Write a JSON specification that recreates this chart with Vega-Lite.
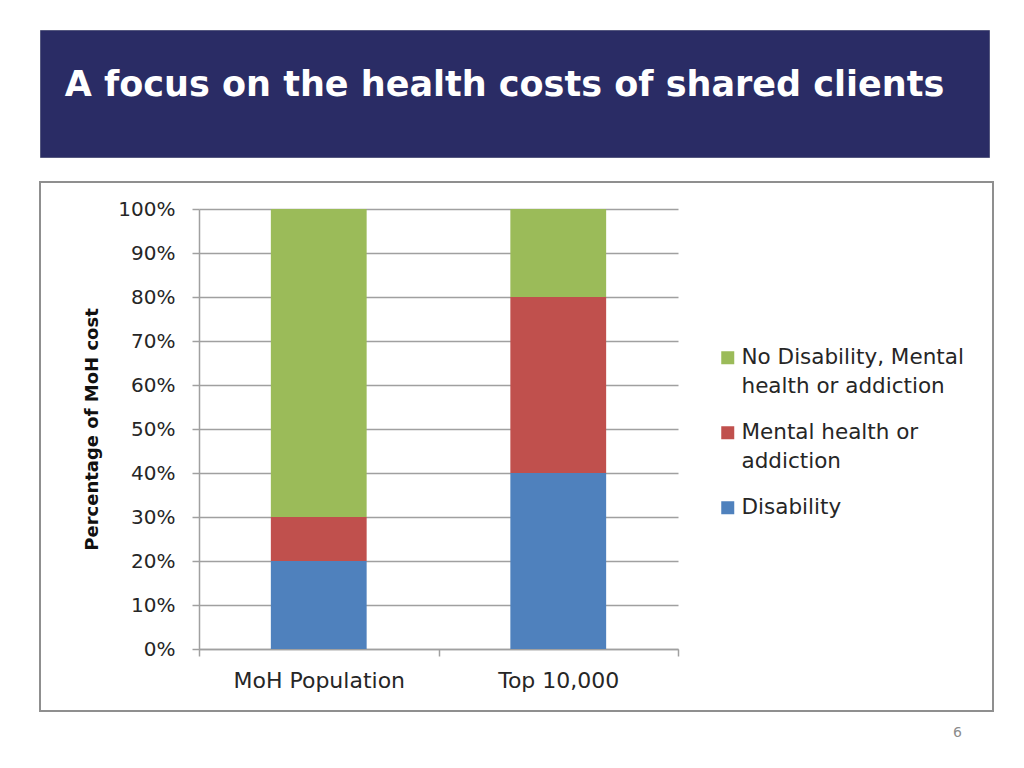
{
  "$schema": "https://vega.github.io/schema/vega-lite/v6.json",
  "background": "white",
  "padding": {"left": 39, "top": 29, "right": 0, "bottom": 0},
  "spacing": 25,
  "bounds": "flush",
  "resolve": {"scale": {"color": "independent"}},
  "config": {
    "style": {"guide-label": {"lineHeight": 29}},
    "axis": {"labelFont": "DejaVu Sans", "titleFont": "DejaVu Sans"}
  },
  "vconcat": [
    {
      "width": 949,
      "height": 127,
      "view": {"fill": "#2a2c65", "stroke": "#55587f", "strokeWidth": 1},
      "data": {"values": [{"heading": "A focus on the health costs of shared clients"}]},
      "mark": {
        "type": "text",
        "font": "DejaVu Sans",
        "fontSize": 35,
        "fontWeight": "bold",
        "color": "white",
        "align": "center",
        "baseline": "alphabetic",
        "dx": -10,
        "dy": 2
      },
      "encoding": {"text": {"field": "heading", "type": "nominal"}}
    },
    {
      "width": 953,
      "height": 529,
      "view": {"fill": "white", "stroke": "#8f8f8f", "strokeWidth": 2},
      "title": {
        "text": "6",
        "orient": "bottom",
        "anchor": "end",
        "frame": "group",
        "offset": 15,
        "dx": -31,
        "baseline": "top",
        "font": "DejaVu Sans",
        "fontSize": 14,
        "fontWeight": "normal",
        "color": "#8c8c8c"
      },
      "data": {
        "values": [
          {"group": "MoH Population", "category": "Disability", "share": 0.2, "order": 1},
          {"group": "MoH Population", "category": "Mental health or addiction", "share": 0.1, "order": 2},
          {"group": "MoH Population", "category": "No Disability, Mental health or addiction", "share": 0.7, "order": 3},
          {"group": "Top 10,000", "category": "Disability", "share": 0.4, "order": 1},
          {"group": "Top 10,000", "category": "Mental health or addiction", "share": 0.4, "order": 2},
          {"group": "Top 10,000", "category": "No Disability, Mental health or addiction", "share": 0.2, "order": 3}
        ]
      },
      "mark": {"type": "bar", "width": {"band": 0.4}},
      "encoding": {
        "x": {
          "field": "group",
          "type": "nominal",
          "sort": ["MoH Population", "Top 10,000"],
          "scale": {"range": [159, 638], "paddingInner": 0, "paddingOuter": 0},
          "axis": {
            "orient": "bottom",
            "offset": -62,
            "title": null,
            "labelAngle": 0,
            "tickBand": "extent",
            "tickSize": 7,
            "tickColor": "#a0a0a0",
            "tickWidth": 1.5,
            "domainColor": "#a0a0a0",
            "domainWidth": 1.5,
            "labelPadding": 14,
            "labelFontSize": 22,
            "labelColor": "#262626",
            "grid": false
          }
        },
        "y": {
          "field": "share",
          "type": "quantitative",
          "stack": "zero",
          "scale": {"domain": [0, 1], "range": [467, 27], "nice": false},
          "axis": {
            "orient": "left",
            "offset": -159,
            "values": [0, 0.1, 0.2, 0.3, 0.4, 0.5, 0.6, 0.7, 0.8, 0.9, 1],
            "format": ".0%",
            "title": "Percentage of MoH cost",
            "titleFontSize": 18,
            "titleFontWeight": "bold",
            "titleColor": "#111111",
            "titlePadding": 16,
            "labelFontSize": 20,
            "labelColor": "#262626",
            "labelPadding": 17,
            "tickSize": 7,
            "tickColor": "#a0a0a0",
            "tickWidth": 1.5,
            "domainColor": "#a0a0a0",
            "domainWidth": 1.5,
            "grid": true,
            "gridColor": "#a0a0a0",
            "gridWidth": 1.5
          }
        },
        "color": {
          "field": "category",
          "type": "nominal",
          "scale": {
            "domain": ["No Disability, Mental health or addiction", "Mental health or addiction", "Disability"],
            "range": ["#9bbb59", "#c0504d", "#4f81bd"]
          },
          "legend": {
            "orient": "none",
            "legendX": 677,
            "legendY": 165,
            "title": null,
            "padding": 0,
            "symbolType": "square",
            "symbolSize": 169,
            "symbolStrokeWidth": 0,
            "labelFont": "DejaVu Sans",
            "labelFontSize": 21.5,
            "labelColor": "#262626",
            "labelOffset": 3,
            "labelLimit": 400,
            "rowPadding": 23,
            "labelExpr": "datum.label == 'No Disability, Mental health or addiction' ? ['No Disability, Mental', 'health or addiction'] : datum.label == 'Mental health or addiction' ? ['Mental health or', 'addiction'] : datum.label"
          }
        },
        "order": {"field": "order", "type": "quantitative"}
      }
    }
  ]
}
